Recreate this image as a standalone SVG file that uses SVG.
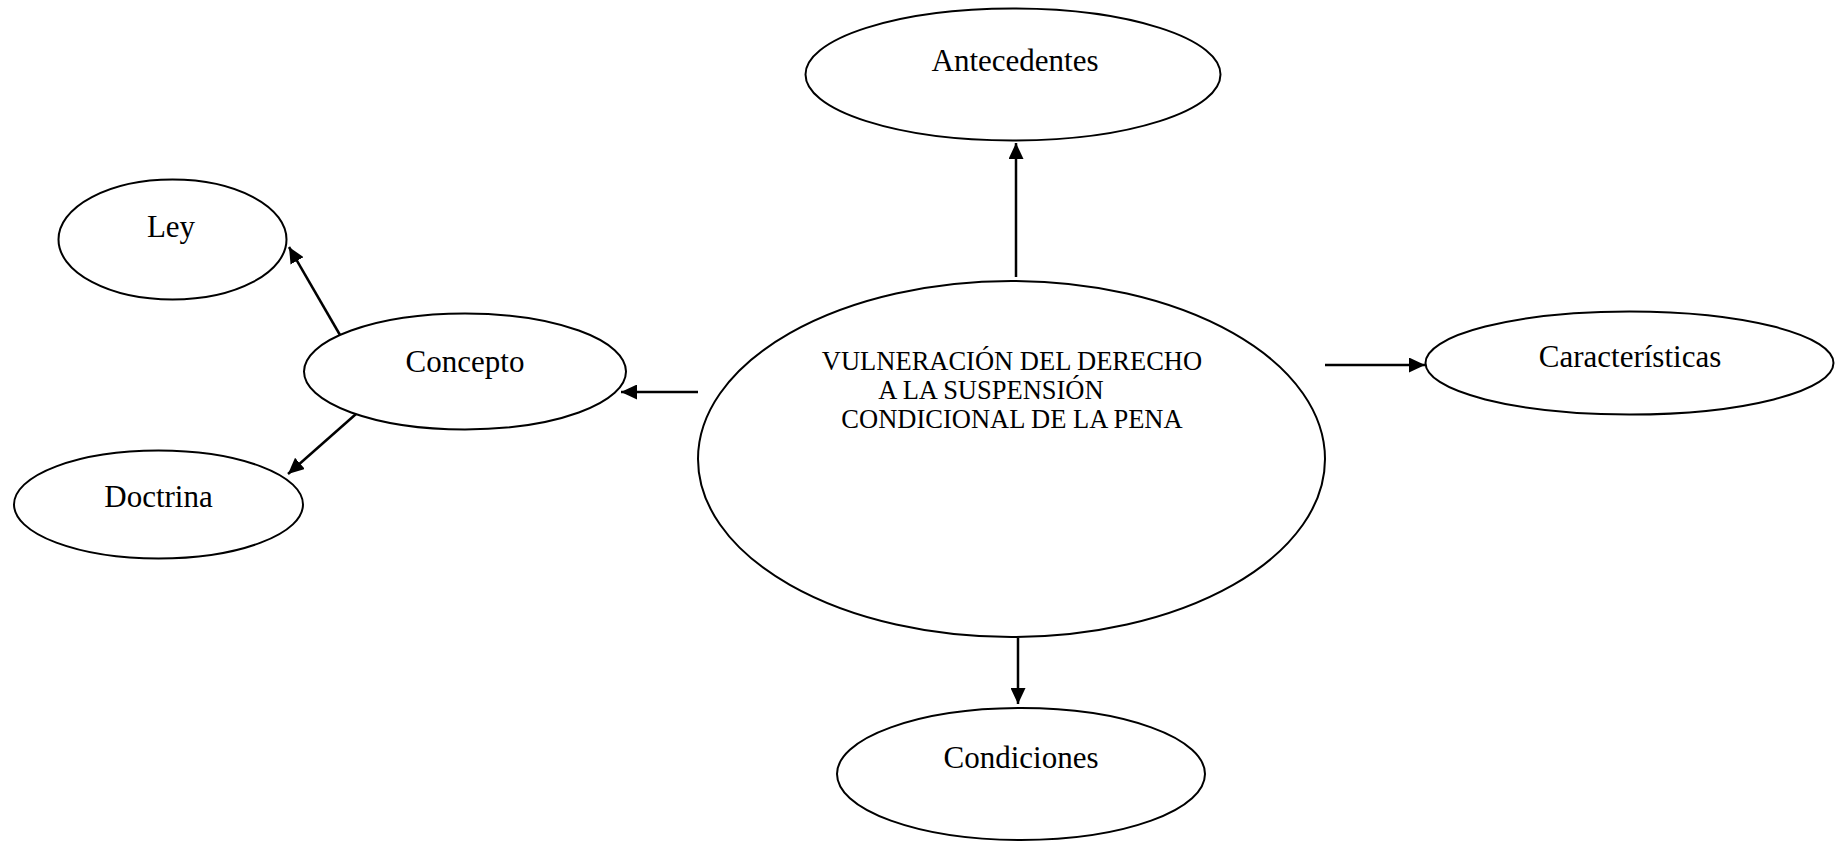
<svg xmlns="http://www.w3.org/2000/svg" width="1835" height="842" viewBox="0 0 1835 842">
<style>
.n{fill:#fff;stroke:#000;stroke-width:2}
.t{font-family:"Liberation Serif","Times New Roman",serif;font-size:31px;fill:#000;text-anchor:middle}
.m{font-family:"Liberation Serif","Times New Roman",serif;font-size:26.5px;fill:#000;text-anchor:middle}
.c{stroke:#000;stroke-width:2.5;fill:none;marker-end:url(#ah)}
</style>
<defs>
<marker id="ah" markerUnits="userSpaceOnUse" markerWidth="16" markerHeight="15" refX="16" refY="7.5" orient="auto">
<path d="M0,0 L16,7.5 L0,15 z" fill="#000"/>
</marker>
</defs>
<rect width="1835" height="842" fill="#fff"/>
<g id="connectors">
<line class="c" x1="1016" y1="277" x2="1016" y2="143"/>
<line class="c" x1="1018" y1="638" x2="1018" y2="704"/>
<line class="c" x1="1325" y1="365" x2="1425" y2="365"/>
<line class="c" x1="698" y1="392" x2="621" y2="392"/>
<line class="c" x1="340" y1="335" x2="289" y2="247"/>
<line class="c" x1="356" y1="414" x2="288" y2="474"/>
</g>
<g id="main">
<ellipse class="n" cx="1011.5" cy="459" rx="313.5" ry="178"/>
<text class="m" x="1012" y="370">VULNERACIÓN DEL DERECHO</text>
<text class="m" x="991" y="399">A LA SUSPENSIÓN</text>
<text class="m" x="1012" y="428">CONDICIONAL DE LA PENA</text>
</g>
<g id="antecedentes">
<ellipse class="n" cx="1013" cy="74.5" rx="207.5" ry="66"/>
<text class="t" x="1015" y="71">Antecedentes</text>
</g>
<g id="caracteristicas">
<ellipse class="n" cx="1629.5" cy="363" rx="204" ry="51.5"/>
<text class="t" x="1630" y="367">Características</text>
</g>
<g id="condiciones">
<ellipse class="n" cx="1021" cy="774" rx="184" ry="66"/>
<text class="t" x="1021" y="768">Condiciones</text>
</g>
<g id="concepto">
<ellipse class="n" cx="465" cy="371.5" rx="161" ry="58"/>
<text class="t" x="465" y="372">Concepto</text>
</g>
<g id="ley">
<ellipse class="n" cx="172.5" cy="239.5" rx="114" ry="60"/>
<text class="t" x="171" y="237">Ley</text>
</g>
<g id="doctrina">
<ellipse class="n" cx="158.5" cy="504.5" rx="144.5" ry="54"/>
<text class="t" x="158.5" y="507">Doctrina</text>
</g>
</svg>
